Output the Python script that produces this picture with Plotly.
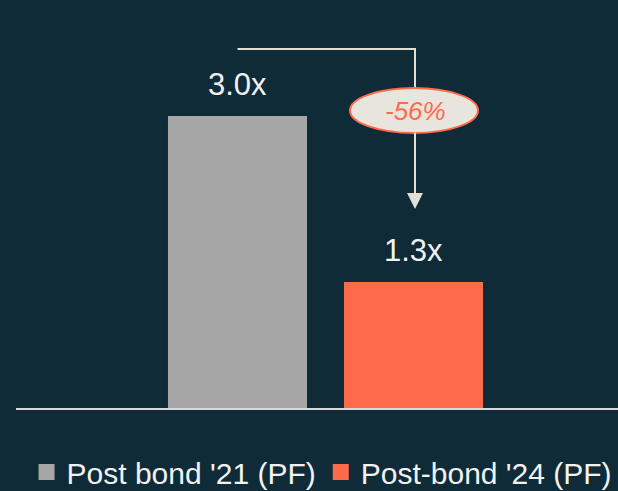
import plotly.graph_objects as go

categories = ["Post bond '21 (PF)", "Post-bond '24 (PF)"]
values = [3.0, 1.3]
labels = ["3.0x", "1.3x"]
colors = ["#a6a6a6", "#ff6a4b"]
change_label = "-56%"

BG = "#0e2b37"
W, H = 618, 491
FONT = "Liberation Sans, Arial"

px_per_cat = 176.0
cat0_px = 237.5
base_px = 409.0
px_per_unit = 97.7

x_range = [(0 - cat0_px) / px_per_cat, (W - cat0_px) / px_per_cat]
y_range = [-(H - base_px) / px_per_unit, base_px / px_per_unit]

fig = go.Figure()
for i, (c, v, col) in enumerate(zip(categories, values, colors)):
    fig.add_trace(go.Bar(
        x=[i], y=[v], name=c, marker=dict(color=col, line=dict(width=0)),
        width=0.79, showlegend=False,
    ))
# legend proxies (square markers)
for c, col in zip(categories, colors):
    fig.add_trace(go.Scatter(
        x=[None], y=[None], mode="markers", name=c,
        marker=dict(symbol="square", size=18, color=col, line=dict(width=0)),
        showlegend=True,
    ))

for i, (v, t) in enumerate(zip(values, labels)):
    fig.add_annotation(x=i, y=v, text=t, showarrow=False, yanchor="bottom",
                       yshift=12, font=dict(size=31, color="#f2f2f2", family=FONT))

line_col = "#e2dfd3"
top_y = (base_px - 49) / px_per_unit
ell_y0 = (base_px - 133) / px_per_unit
ell_y1 = (base_px - 88) / px_per_unit
arrow_end = (base_px - 209) / px_per_unit
ell_x0 = (350 - cat0_px) / px_per_cat
ell_x1 = (478 - cat0_px) / px_per_cat
ell_xc = 1 + (415 - 413.5) / px_per_cat

fig.add_shape(type="path",
              path=f"M 0,{top_y} L {ell_xc},{top_y} L {ell_xc},{ell_y0}",
              line=dict(color=line_col, width=2), layer="above")
fig.add_shape(type="circle", x0=ell_x0, x1=ell_x1, y0=ell_y0, y1=ell_y1,
              fillcolor="#e8e5dc", line=dict(color="#ff6a4b", width=2),
              layer="above")
fig.add_annotation(x=ell_xc, y=arrow_end, ax=ell_xc, ay=ell_y0 + 0.02,
                   axref="x", ayref="y", xref="x", yref="y",
                   showarrow=True, arrowhead=2, arrowsize=1.6, arrowwidth=2,
                   arrowcolor=line_col, text="")
fig.add_annotation(x=ell_xc, y=(ell_y0 + ell_y1) / 2, text=f"<i>{change_label}</i>",
                   showarrow=False, font=dict(size=26, color="#ff6a4b", family=FONT))

# baseline
fig.add_shape(type="line", xref="paper", yref="y", x0=16 / W, x1=1, y0=0, y1=0,
              line=dict(color="#d6d9da", width=2), layer="above")

fig.update_layout(
    width=W, height=H,
    margin=dict(l=0, r=0, t=0, b=0, autoexpand=False),
    paper_bgcolor=BG, plot_bgcolor=BG,
    barmode="overlay",
    xaxis=dict(range=x_range, visible=False, fixedrange=True),
    yaxis=dict(range=y_range, visible=False, fixedrange=True),
    legend=dict(orientation="h", x=0.043, y=1 - 472 / H, yanchor="middle",
                xanchor="left", bgcolor="rgba(0,0,0,0)",
                font=dict(size=30, color="#f2f2f2", family=FONT),
                itemsizing="trace", traceorder="normal"),
    showlegend=True,
)

fig.write_html("out.html")
